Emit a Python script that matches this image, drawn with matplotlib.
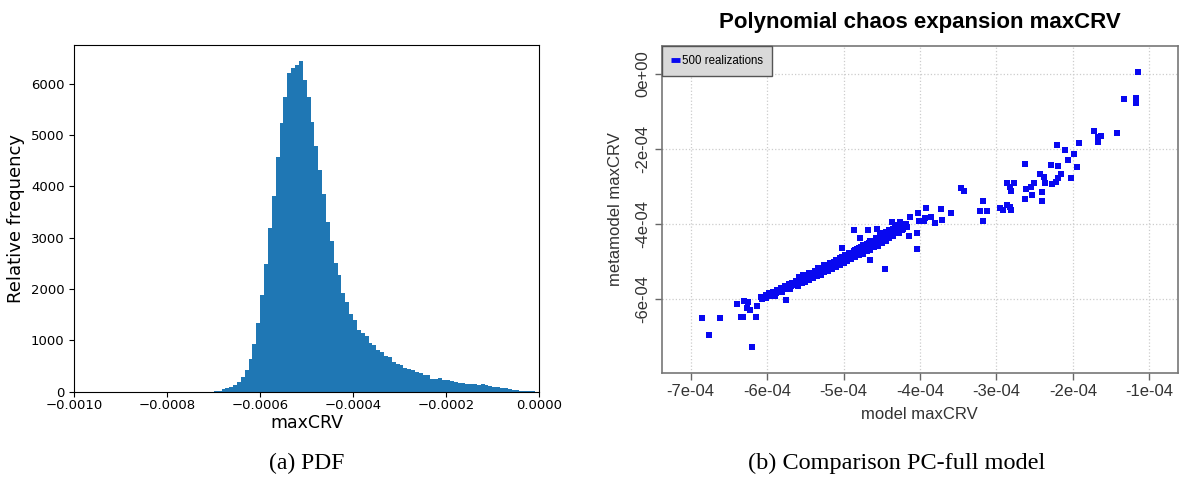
import numpy as np
import matplotlib
matplotlib.use("Agg")
import matplotlib.pyplot as plt
from matplotlib.lines import Line2D

# ---------------- data: histogram (a) ----------------
hist_start = -0.000700          # left edge of first visible bin
hist_bin_width = 8.32e-6
hist_counts = [20, 20, 60, 70, 98, 137, 195,
               293, 429, 644, 936, 1333, 1879, 2477, 3179, 3803, 4563, 5226, 5733, 6201, 6293,
               6351, 6429, 6059, 5747, 5259, 4791, 4323,
               3855, 3309, 2938, 2509, 2275, 1924, 1749, 1515, 1398, 1203, 1144, 1086, 949, 910,
               813, 774, 696, 676, 579, 540, 520, 462, 442, 423, 378,
               360, 331, 331, 253, 253, 273, 234, 234, 215, 195, 176, 176, 156, 156, 156, 137,
               156, 137, 117, 98, 98, 78, 78, 59, 39, 39, 20, 20, 20, 20]
hist_xticks = [-0.0010, -0.0008, -0.0006, -0.0004, -0.0002, 0.0000]
hist_yticks = [0, 1000, 2000, 3000, 4000, 5000, 6000]

# ---------------- data: scatter (b), values in units of 1e-4 ----------------
model_e4 = [
    # lower-left outliers
    -6.85, -6.76, -6.62, -6.20, -6.40, -6.30, -6.25, -6.26, -6.22, -6.34, -6.31, -6.15, -6.13, -5.76,
    # dense band
    -6.08, -6.07, -6.04, -6.02, -6.01, -5.99, -5.97, -5.96, -5.94, -5.92, -5.91, -5.89, -5.90,
    -5.87, -5.86, -5.84, -5.82, -5.81, -5.79, -5.80, -5.77, -5.76, -5.74, -5.72, -5.71, -5.69, -5.70,
    -5.67, -5.66, -5.64, -5.62, -5.61, -5.59, -5.60, -5.57, -5.56, -5.54, -5.52, -5.51, -5.49, -5.50,
    -5.47, -5.46, -5.44, -5.42, -5.41, -5.39, -5.40, -5.37, -5.36, -5.34, -5.32, -5.31, -5.29, -5.30,
    -5.27, -5.26, -5.24, -5.22, -5.21, -5.19, -5.20, -5.17, -5.16, -5.14, -5.12, -5.11, -5.09, -5.10,
    -5.07, -5.06, -5.04, -5.02, -5.01, -4.99, -5.00, -4.97, -4.96, -4.94, -4.92, -4.91, -4.89, -4.90,
    -4.87, -4.86, -4.84, -4.82, -4.81, -4.79, -4.80, -4.77, -4.76, -4.74, -4.72, -4.71, -4.69, -4.70,
    -4.67, -4.66, -4.64, -4.62, -4.61, -4.59, -4.60, -4.57, -4.56, -4.54, -4.52, -4.51, -4.49, -4.50,
    -4.47, -4.46, -4.44, -4.42, -4.41, -4.39, -4.40, -4.37, -4.36, -4.34, -4.32, -4.31, -4.29,
    -4.26, -4.24, -4.22,
    # band, upper edge
    -5.58, -5.53, -5.45, -5.38, -5.33, -5.25, -5.18, -5.10, -5.05, -4.98, -4.93, -4.85, -4.80,
    -4.75, -4.70, -4.65, -4.58, -4.53, -4.48, -4.44, -4.40, -4.35,
    # band, lower edge
    -5.55, -5.45, -5.35, -5.25, -5.15, -5.05, -4.95, -4.85, -4.75, -4.65, -4.55, -4.45, -4.35, -4.28,
    # band end blob
    -4.33, -4.30, -4.23, -4.20, -4.18,
    # scattered around band end
    -4.87, -4.68, -4.56, -4.37, -5.02, -4.78, -4.66, -4.46, -4.15, -4.26, -4.17,
    -4.14, -4.13, -4.04, -4.04, -4.01, -4.02, -3.95, -3.94, -3.92, -3.86, -3.81, -3.71, -3.72, -3.60,
    -3.46, -3.42,
    -3.18, -3.22, -3.12, -3.17,
    -2.95, -2.92, -2.86, -2.82, -2.81, -2.86, -2.77, -2.82, -2.81,
    -2.62, -2.43, -2.38, -2.37, -2.40, -2.40, -2.51, -2.55, -2.61, -2.53, -2.63,
    -2.28, -2.20, -2.16, -2.20, -2.22, -2.27,
    -2.21, -2.10, -1.99, -2.06, -1.95, -2.03, -1.92,
    -1.72, -1.67, -1.63, -1.67, -1.42,
    -1.33, -1.17, -1.17, -1.17, -1.147,
]
meta_e4 = [
    -6.51, -6.97, -6.51, -7.28, -6.13, -6.05, -6.07, -6.24, -6.29, -6.47, -6.47, -6.49, -6.19, -6.03,
    -5.95, -6.00, -5.97, -5.90, -5.96, -5.93, -5.85, -5.92, -5.88, -5.80, -5.87, -5.83, -5.92,
    -5.76, -5.82, -5.79, -5.70, -5.77, -5.74, -5.82, -5.65, -5.72, -5.69, -5.60, -5.68, -5.64, -5.73,
    -5.56, -5.63, -5.60, -5.51, -5.59, -5.55, -5.64, -5.47, -5.54, -5.51, -5.42, -5.50, -5.46, -5.55,
    -5.37, -5.45, -5.41, -5.31, -5.40, -5.36, -5.45, -5.27, -5.35, -5.31, -5.21, -5.30, -5.26, -5.36,
    -5.16, -5.24, -5.20, -5.10, -5.19, -5.14, -5.25, -5.05, -5.13, -5.09, -5.00, -5.08, -5.04, -5.14,
    -4.95, -5.03, -4.99, -4.89, -4.98, -4.93, -5.05, -4.84, -4.93, -4.88, -4.78, -4.87, -4.83, -4.93,
    -4.73, -4.82, -4.77, -4.67, -4.76, -4.72, -4.83, -4.62, -4.70, -4.66, -4.56, -4.65, -4.60, -4.71,
    -4.51, -4.59, -4.55, -4.45, -4.54, -4.49, -4.61, -4.40, -4.48, -4.44, -4.34, -4.43, -4.38, -4.50,
    -4.29, -4.37, -4.33, -4.24, -4.31, -4.27, -4.38, -4.20, -4.26, -4.22, -4.14, -4.20, -4.17,
    -4.10, -4.16, -4.12,
    -5.40, -5.36, -5.30, -5.24, -5.17, -5.10, -5.03, -4.96, -4.90, -4.83, -4.76, -4.70, -4.63,
    -4.57, -4.52, -4.45, -4.38, -4.30, -4.25, -4.20, -4.16, -4.12,
    -5.58, -5.49, -5.39, -5.29, -5.19, -5.10, -4.99, -4.89, -4.79, -4.69, -4.58, -4.46, -4.33, -4.25,
    -4.05, -4.02, -4.03, -4.08, -4.00,
    -4.16, -4.16, -4.12, -3.94, -4.65, -4.38, -4.96, -5.21, -4.31, -3.94, -4.07,
    -4.32, -3.82, -4.25, -4.67, -3.91, -3.70, -3.91, -3.83, -3.57, -3.82, -3.97, -3.89, -3.60, -3.71,
    -3.03, -3.13,
    -3.38, -3.66, -3.66, -3.91,
    -3.57, -3.63, -3.49, -3.54, -3.63, -2.91, -2.91, -3.00, -3.12,
    -2.40, -2.66, -2.74, -2.91, -3.15, -3.38, -2.90, -3.00, -3.07, -3.22, -3.34,
    -2.42, -2.45, -2.66, -2.78, -2.88, -2.94,
    -1.89, -2.03, -2.13, -2.30, -2.47, -2.78, -1.85,
    -1.52, -1.67, -1.65, -1.81, -1.56,
    -0.67, -0.63, -0.71, -0.78, 0.05,
]
scatter_xticks_e4 = [-7, -6, -5, -4, -3, -2, -1]
scatter_xticklabels = ["-7e-04", "-6e-04", "-5e-04", "-4e-04", "-3e-04", "-2e-04", "-1e-04"]
scatter_yticks_e4 = [0, -2, -4, -6]
scatter_yticklabels = ["0e+00", "-2e-04", "-4e-04", "-6e-04"]
legend_label = "500 realizations"

# ---------------- figure ----------------
W, H = 1182, 488
fig = plt.figure(figsize=(W / 100, H / 100), dpi=100)
plt.rcParams['font.family'] = ['DejaVu Sans']

# ---- (a) histogram ----
ax1 = fig.add_axes([74.3 / W, 1 - 391.7 / H, 465.0 / W, 346.7 / H])
edges = hist_start + hist_bin_width * np.arange(len(hist_counts) + 1)
ax1.bar(edges[:-1], hist_counts, width=np.diff(edges), align='edge', color='#1f77b4', linewidth=0)
ax1.set_xlim(-0.0010, 0.0)
ax1.set_ylim(0, 6750)
ax1.set_xticks(hist_xticks)
ax1.set_yticks(hist_yticks)
ax1.tick_params(labelsize=9.5, length=3.5, width=0.8)
ax1.tick_params(axis='x', pad=2)
ax1.set_xlabel("maxCRV", fontsize=12.5, labelpad=1)
ax1.set_ylabel("Relative frequency", fontsize=13, labelpad=4)

# ---- (b) scatter ----
rfont = ['Liberation Sans', 'DejaVu Sans']
ax2 = fig.add_axes([661.7 / W, 1 - 372.7 / H, 516.0 / W, 326.7 / H])
mx = np.array(model_e4) * 1e-4
my = np.array(meta_e4) * 1e-4
ax2.scatter(mx, my, marker='s', s=15, color='#0808f0', linewidths=0, zorder=3)
ax2.set_xlim(-7.38e-4, -0.628e-4)
ax2.set_ylim(-7.965e-4, 0.747e-4)
xt = np.array(scatter_xticks_e4) * 1e-4
yt = np.array(scatter_yticks_e4) * 1e-4
ax2.set_xticks(xt)
ax2.set_xticklabels(scatter_xticklabels, family=rfont, fontsize=12, color='#333333')
ax2.set_yticks(yt)
ax2.set_yticklabels(scatter_yticklabels, family=rfont, fontsize=12, color='#333333',
                    rotation=90, va='center')
ax2.tick_params(axis='both', length=5, width=1, color='#666666', pad=3)
ax2.grid(True, linestyle=':', color='#cccccc', linewidth=0.9, zorder=0)
for s in ax2.spines.values():
    s.set_color('#777777')
    s.set_linewidth(1.2)
ax2.set_xlabel("model maxCRV", family=rfont, fontsize=12, color='#333333', labelpad=6)
ax2.set_ylabel("metamodel maxCRV", family=rfont, fontsize=12, color='#333333', labelpad=9)
ax2.set_title("Polynomial chaos expansion maxCRV", family=rfont, fontsize=16,
              fontweight='bold', pad=13)
handle = Line2D([], [], color='#0808f0', linewidth=3.5, solid_capstyle='butt')
leg = ax2.legend([handle], [legend_label], loc='upper left', borderaxespad=0,
                 fancybox=False, frameon=True, handlelength=0.8, handletextpad=0.15,
                 borderpad=0.8, prop={'family': rfont, 'size': 8.3})
leg.get_frame().set_facecolor('#d9d9d9')
leg.get_frame().set_edgecolor('#555555')
leg.get_frame().set_alpha(1)
leg.get_frame().set_linewidth(1.0)

# ---- captions ----
cfont = ['Liberation Serif', 'DejaVu Serif']
fig.text(306.8 / W, 1 - 463 / H, "(a) PDF", family=cfont, fontsize=17, ha='center', va='center')
fig.text(897 / W, 1 - 463 / H, "(b) Comparison PC-full model", family=cfont, fontsize=17.5,
         ha='center', va='center')

fig.savefig("out.png", dpi=100)
